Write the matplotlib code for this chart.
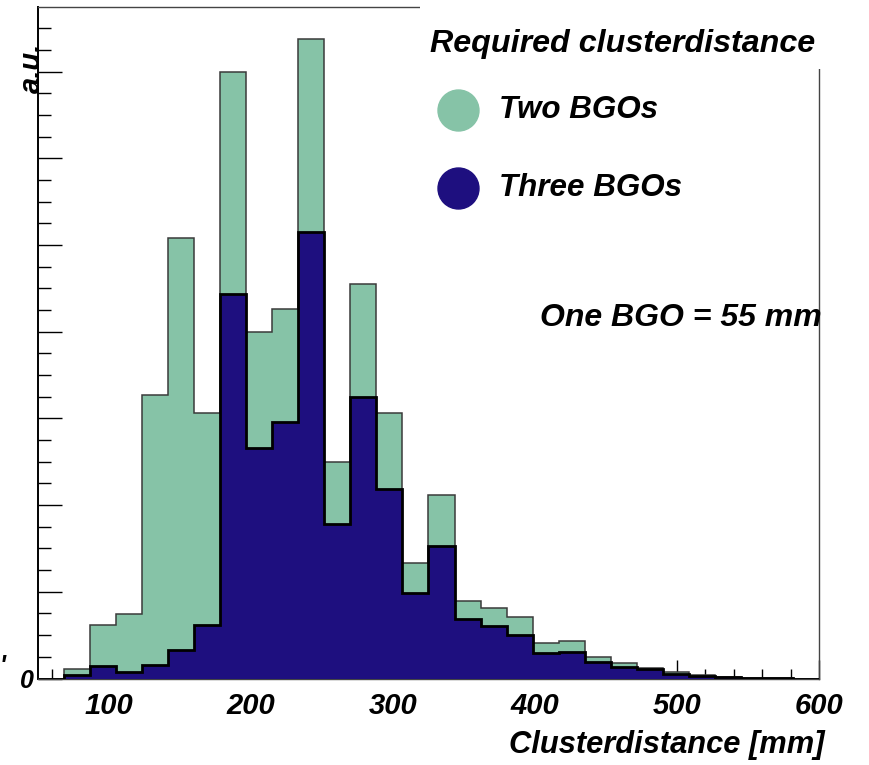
import numpy as np
import matplotlib
matplotlib.use("Agg")
import matplotlib.pyplot as plt
from matplotlib.patches import Rectangle
from matplotlib.lines import Line2D

# ---- data -------------------------------------------------------------
x_min, x_max, n_bins = 50.0, 600.0, 30
bin_edges = np.linspace(x_min, x_max, n_bins + 1)

two_bgos = [0.0, 0.106, 0.617, 0.741, 3.271, 5.079, 3.060, 7.001, 4.001, 4.260,
            7.375, 2.498, 4.552, 3.067, 1.336, 2.114, 0.898, 0.819, 0.713, 0.413,
            0.433, 0.252, 0.182, 0.118, 0.075, 0.040, 0.014, 0.006, 0.003, 0.0]
three_bgos = [0.0, 0.037, 0.148, 0.075, 0.156, 0.329, 0.617, 4.436, 2.656, 2.956,
              5.155, 1.779, 3.251, 2.190, 0.983, 1.529, 0.683, 0.606, 0.502, 0.298,
              0.309, 0.194, 0.136, 0.106, 0.052, 0.029, 0.012, 0.005, 0.002, 0.0]

x_ticks = [100, 200, 300, 400, 500, 600]
x_tick_labels = ["100", "200", "300", "400", "500", "600"]
y_ticks = [0, 1, 2, 3, 4, 5, 6, 7]
y_tick_labels = ["0", "", "", "", "", "", "", ""]

series_labels = ["Two BGOs", "Three BGOs"]
legend_title = "Required clusterdistance"
note_text = "One BGO = 55 mm"
x_label = "Clusterdistance [mm]"
y_label = "a.u."

green = "#86c3a7"
navy = "#1e0f7f"

# ---- figure -----------------------------------------------------------
W, H = 870, 765
fig = plt.figure(figsize=(W / 100, H / 100), dpi=100)
fig.patch.set_facecolor("white")

ax_left, ax_right, ax_bottom, ax_top = 38, 819, 678.5, 7
ax = fig.add_axes([ax_left / W, 1 - ax_bottom / H,
                   (ax_right - ax_left) / W, (ax_bottom - ax_top) / H])

y_top = 7.748
ax.set_xlim(x_min, x_max)
ax.set_ylim(0, y_top)

# histograms
ax.stairs(two_bgos, bin_edges, fill=True, facecolor=green, edgecolor="none", zorder=2)
ax.stairs(two_bgos, bin_edges, color="#3a3a3a", linewidth=1.1, zorder=3)
ax.stairs(three_bgos, bin_edges, fill=True, facecolor=navy, edgecolor="none", zorder=4)
ax.stairs(three_bgos, bin_edges, color="black", linewidth=2.0, zorder=5)

font = dict(family="Liberation Sans", weight="bold", style="italic")

ax.set_xticks(x_ticks)
ax.set_xticklabels(x_tick_labels, **font, fontsize=21)
ax.set_xticks(np.arange(60, 601, 20), minor=True)
ax.set_yticks(y_ticks)
ax.set_yticklabels(y_tick_labels, **font, fontsize=18)
ax.set_yticks(np.arange(0, y_top, 0.25), minor=True)

ax.tick_params(axis="x", which="major", direction="in", length=14, width=1,
               pad=10, top=False)
ax.tick_params(axis="x", which="minor", direction="in", length=7, width=1, top=False)
ax.tick_params(axis="y", which="major", direction="in", length=17, width=1,
               pad=3, right=False)
ax.tick_params(axis="y", which="minor", direction="in", length=9, width=1, right=False)

for s in ["top", "right", "bottom"]:
    ax.spines[s].set_color("#444444")
    ax.spines[s].set_linewidth(1.0)
ax.spines["left"].set_color("black")
ax.spines["left"].set_linewidth(1.4)

# title pave (white box hiding frame corner)
fig.add_artist(Rectangle((420 / W, 1 - 69 / H), 450 / W, 69 / H,
                         transform=fig.transFigure, facecolor="white",
                         edgecolor="none", zorder=5))
fig.text(430 / W, 1 - 44 / H, legend_title, ha="left", va="center",
         fontsize=23.2, zorder=6, **font)

# legend entries
for i, (lab, col) in enumerate(zip(series_labels, [green, navy])):
    yc = 1 - (110 + 78 * i) / H
    fig.add_artist(Line2D([458 / W], [yc], transform=fig.transFigure,
                          marker="o", markersize=29.5, color=col,
                          linestyle="none", zorder=6))
    fig.text(499 / W, yc, lab, ha="left", va="center", fontsize=22.6,
             zorder=6, **font)

fig.text(540 / W, 1 - 318 / H, note_text, ha="left", va="center",
         fontsize=23, zorder=6, **font)

# axis labels
fig.text(825 / W, 1 - 745 / H, x_label, ha="right", va="center",
         fontsize=22.2, **font)
fig.text(32 / W, 1 - 68 / H, y_label, ha="center", va="center",
         rotation=90, fontsize=21, **font)
fig.text(0 / W, 1 - 666 / H, "'", ha="left", va="center", fontsize=18, **font)

fig.savefig("out.png", dpi=100)
